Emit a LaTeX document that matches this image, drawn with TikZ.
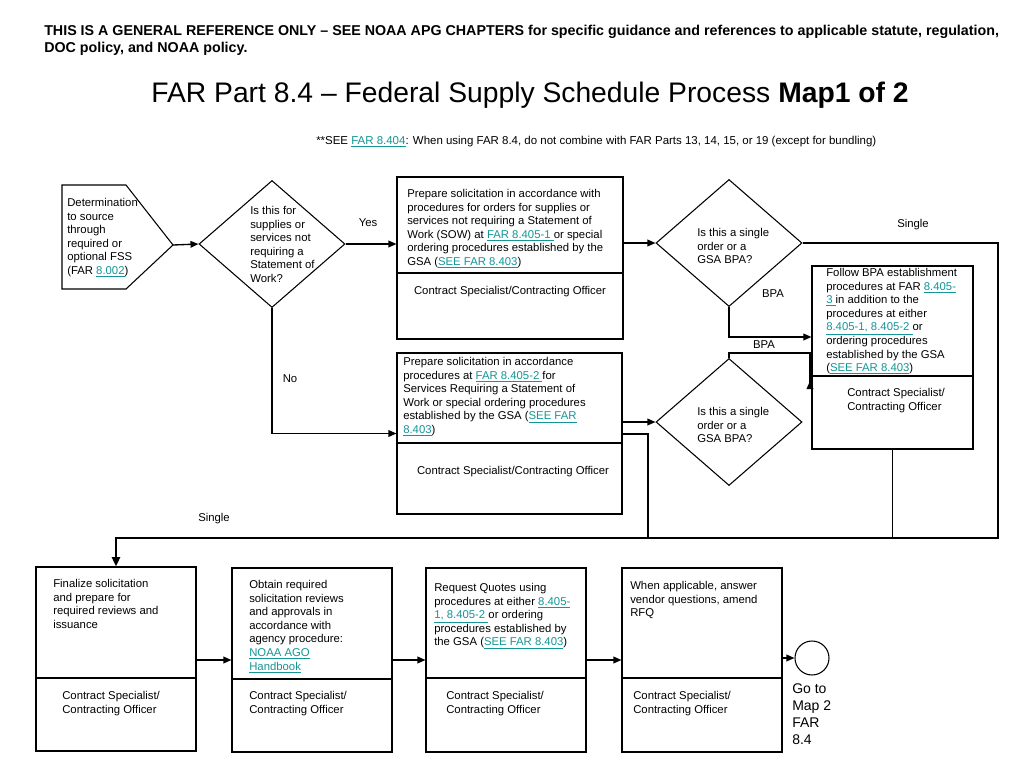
\documentclass[tikz,border=0pt]{standalone}
\usepackage{fontspec}
\setmainfont{Liberation Sans}
\usetikzlibrary{arrows.meta,shapes.geometric,fit}
\definecolor{linkc}{RGB}{20,150,150}
\newcommand{\lk}[1]{{\color{linkc}\underline{#1}}}
\begin{document}
\begin{tikzpicture}[x=0.75pt,y=-0.75pt,
  txt/.style={anchor=north west, inner sep=0pt, align=left, yshift=-1.5pt, font=\fontsize{8.5}{10.2}\selectfont},
  lbl/.style={inner sep=0pt, font=\fontsize{8.5}{10.2}\selectfont},
  box/.style={draw, line width=0.8pt, rectangle, inner sep=0pt},
  dia/.style={draw, line width=0.8pt, diamond, inner sep=0pt, minimum width={146*0.75pt}, minimum height={127*0.75pt}},
  conn/.style={line width=1pt},
  arr/.style={conn, -{Triangle[length=6pt,width=5pt]}},
  thickarr/.style={line width=2.2pt, -{Triangle[length=7pt,width=6pt]}},
]
\fill[white] (0,0) rectangle (1024,768);
\useasboundingbox (0,0) rectangle (1024,768);

% header
\node[anchor=north west, inner sep=0pt, align=left, font=\bfseries\fontsize{10.7}{12.75}\selectfont] (hdr) at (44,25)
  {THIS IS A GENERAL REFERENCE ONLY – SEE NOAA APG CHAPTERS for specific guidance and references to applicable statute, regulation,\\ DOC policy, and NOAA policy.};
\node[anchor=base, inner sep=0pt, font=\fontsize{21.2}{25}\selectfont] (title) at (530,102)
  {FAR Part 8.4 – Federal Supply Schedule Process \textbf{Map1 of 2}};
\node[anchor=base west, inner sep=0pt, font=\fontsize{8.6}{10}\selectfont] (sub) at (316,144)
  {**SEE \lk{FAR 8.404}: When using FAR 8.4, do not combine with FAR Parts 13, 14, 15, or 19 (except for bundling)};

% determination pentagon
\draw[line width=0.8pt] (62,185) -- (126,185) -- (173,245) coordinate (detR) -- (126,289) -- (62,289) -- cycle;
\node[txt] (dett) at (67,196) {Determination\\ to source\\ through\\ required or\\ optional FSS\\ (FAR \lk{8.002})};

% diamond 1
\node[dia] (d1) at (272,244) {};
\node[txt] (d1t) at (250,204) {Is this for\\ supplies or\\ services not\\ requiring a\\ Statement of\\ Work?};

% box 1
\node[box, fit={(397,177) (623,339)}] (b1) {};
\draw[line width=0.8pt] (b1.west |- 0,273) -- (b1.east |- 0,273);
\node[txt] (b1t) at (407,187) {Prepare solicitation in accordance with\\ procedures for orders for supplies or\\ services not requiring a Statement of\\ Work (SOW) at \lk{FAR 8.405-1\ }or special\\ ordering procedures established by the\\ GSA (\lk{SEE FAR 8.403})};
\node[lbl] (b1r) at (510,292) {Contract Specialist/Contracting Officer};

% box 2
\node[box, fit={(397,353) (622,514)}] (b2) {};
\draw[line width=0.8pt] (b2.west |- 0,443) -- (b2.east |- 0,443);
\node[txt] (b2t) at (403,355) {Prepare solicitation in accordance\\ procedures at \lk{FAR 8.405-2\ }for\\ Services Requiring a Statement of\\ Work or special ordering procedures\\ established by the GSA (\lk{SEE FAR}\\ \lk{8.403})};
\node[lbl] (b2r) at (513,472) {Contract Specialist/Contracting Officer};

% diamonds 2, 3
\node[dia] (d2) at (729,243) {};
\node[txt] (d2t) at (697,226) {Is this a single\\ order or a\\ GSA BPA?};
\node[dia] (d3) at (729,422) {};
\node[txt] (d3t) at (697,405) {Is this a single\\ order or a\\ GSA BPA?};

% BPA box
\node[box, fit={(812,266) (973,449)}] (bpa) {};
\draw[line width=0.8pt] (bpa.west |- 0,376) -- (bpa.east |- 0,376);
\node[txt] (bpat) at (826,266) {Follow BPA establishment\\ procedures at FAR \lk{8.405-}\\ \lk{3\ }in addition to the\\ procedures at either\\ \lk{8.405-1, 8.405-2\ }or\\ ordering procedures\\ established by the GSA\\ (\lk{SEE FAR 8.403})};
\node[txt] (bpar) at (847,386) {Contract Specialist/\\ Contracting Officer};

% bottom boxes
\node[box, fit={(36,567) (196,751)}] (bA) {};
\draw[line width=0.8pt] (bA.west |- 0,678) -- (bA.east |- 0,678);
\node[txt] (bAt) at (53,577) {Finalize solicitation\\ and prepare for\\ required reviews and\\ issuance};
\node[txt] (bAr) at (62,689) {Contract Specialist/\\ Contracting Officer};

\node[box, fit={(232,568) (392,752)}] (bB) {};
\draw[line width=0.8pt] (bB.west |- 0,679) -- (bB.east |- 0,679);
\node[txt] (bBt) at (249,578) {Obtain required\\ solicitation reviews\\ and approvals in\\ accordance with\\ agency procedure:\\ \lk{NOAA AGO}\\ \lk{Handbook}};
\node[txt] (bBr) at (249,689) {Contract Specialist/\\ Contracting Officer};

\node[box, fit={(426,568) (586,752)}] (bC) {};
\draw[line width=0.8pt] (bC.west |- 0,678) -- (bC.east |- 0,678);
\node[txt] (bCt) at (434,581) {Request Quotes using\\ procedures at either \lk{8.405-}\\ \lk{1, 8.405-2\ }or ordering\\ procedures established by\\ the GSA (\lk{SEE FAR 8.403})};
\node[txt] (bCr) at (446,689) {Contract Specialist/\\ Contracting Officer};

\node[box, fit={(622,568) (782,752)}] (bD) {};
\draw[line width=0.8pt] (bD.west |- 0,678) -- (bD.east |- 0,678);
\node[txt] (bDt) at (630,579) {When applicable, answer\\ vendor questions, amend\\ RFQ};
\node[txt] (bDr) at (633,689) {Contract Specialist/\\ Contracting Officer};

\node[draw, circle, line width=0.8pt, inner sep=0pt, minimum size={34*0.75pt}] (goto) at (812,658) {};
\node[anchor=north west, inner sep=0pt, align=left, font=\fontsize{10.5}{12.75}\selectfont] (gotot) at (792,683) {Go to\\ Map 2\\ FAR\\ 8.4};

% coordinates
\coordinate (rc) at (998,538);
\coordinate (jn) at (648,538);
\coordinate (bpain) at (810,389);

% connectors
\draw[arr] (detR) -- (d1.west);
\draw[arr] (d1.east) -- (d1.east -| b1.west);
\draw[arr] (d1.south) |- (b2.west);
\draw[arr] (b1.east |- d2.west) -- (d2.west);
\draw[arr] (d2.south) |- (bpa.west |- 0,337);
\draw[conn] (d2.east) -| (rc) -- (jn);
\draw[conn] (bpa.south) -- (bpa.south |- rc);
\draw[arr] (b2.east |- d3.west) -- (d3.west);
\draw[conn] (b2.east |- 0,434) -| (jn);
\draw[conn, -{Triangle[reversed,length=6pt,width=5pt]}] (d3.north) -- ++(0,-5) -| (bpain);
\draw[thickarr] (jn) -| (bA.north);
\draw[arr] (bA.east |- 0,660) -- (bB.west |- 0,660);
\draw[arr] (bB.east |- 0,660) -- (bC.west |- 0,660);
\draw[arr] (bC.east |- 0,660) -- (bD.west |- 0,660);
\draw[arr] (bD.east |- goto.west) -- (goto.west);

% connector labels
\node[lbl] (lyes) at (368,223) {Yes};
\node[lbl] (lno) at (290,379) {No};
\node[lbl] (lbpa1) at (773,294) {BPA};
\node[lbl] (lbpa2) at (764,345) {BPA};
\node[lbl] (lsing1) at (913,225) {Single};
\node[lbl] (lsing2) at (214,519) {Single};
\end{tikzpicture}
\end{document}
